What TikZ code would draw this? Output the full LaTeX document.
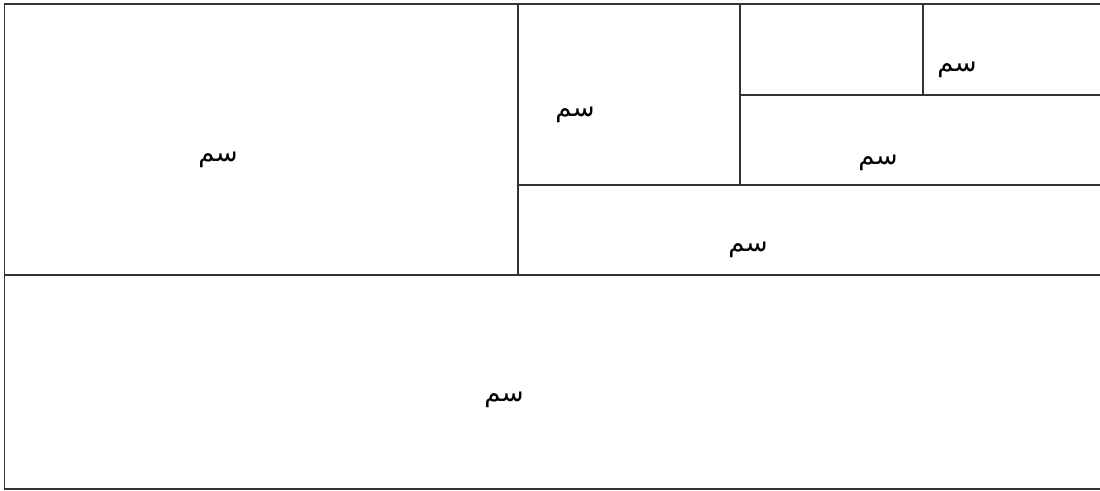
\documentclass[tikz,border=0pt]{standalone}
\usepackage{fontspec}
\newfontfamily\arabicfont[Script=Arabic]{DejaVu Sans}
\TeXXeTstate=1
\tikzset{
  cell/.style={line width=1.2pt, draw=black!80},
  lbl/.style={font=\arabicfont\fontsize{26}{30}\selectfont, inner sep=0pt}
}
\begin{document}
\begin{tikzpicture}[x=1pt,y=-1pt]
        \useasboundingbox (0,0) rectangle (1100,490);
        % Outer frame (open on the right)
        \draw[cell] (1100,4) -- (4.5,4) -- (4.5,489) -- (1100,489);
        
        % Main split
        \draw[cell] (4.5,275) -- (1100,275);
        \draw[cell] (518,4) -- (518,275);
        
        % Right part of the top half
        \draw[cell] (518,185) -- (1100,185);
        \draw[cell] (740,4) -- (740,185);
        \draw[cell] (740,95) -- (1100,95);
        \draw[cell] (923,4) -- (923,95);
        
        % Labels
        \node[lbl] (big) at (218,160) {\beginR سم\endR};
        \node[lbl] (mid) at (575,115) {\beginR سم\endR};
        \node[lbl] (small) at (957,70) {\beginR سم\endR};
        \node[lbl] (right) at (878,163) {\beginR سم\endR};
        \node[lbl] (band) at (748,250) {\beginR سم\endR};
        \node[lbl] (bottom) at (504,400) {\beginR سم\endR};
    \end{tikzpicture}
\end{document}
